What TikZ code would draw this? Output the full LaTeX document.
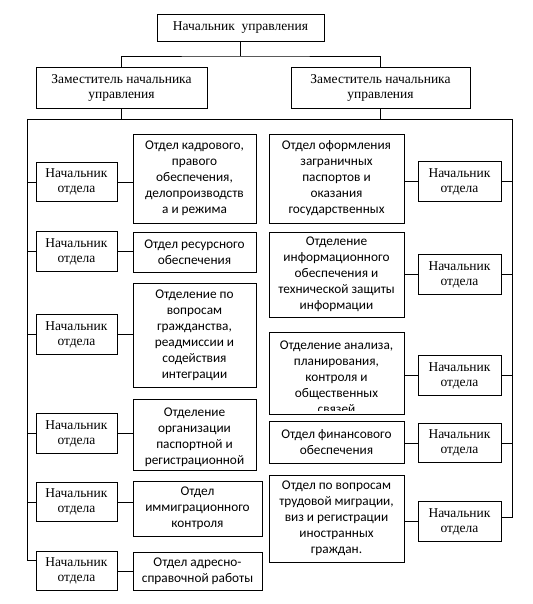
\documentclass[tikz,border=0pt]{standalone}
\usepackage{fontspec}
\setmainfont{Liberation Serif}
\newfontfamily\carl{Carlito}
\begin{document}
\begin{tikzpicture}[x=1pt,y=-1pt,
  box/.style={draw, line width=0.8pt, inner sep=0pt, align=center},
  serifbox/.style={box, font=\fontsize{13.5}{15}\selectfont},
  dept/.style={box, font=\carl\fontsize{13.3}{16}\selectfont},
  txt/.style={inner sep=0pt, align=center, font=\carl\fontsize{13.3}{16}\selectfont},
  link/.style={line width=0.8pt}]
\useasboundingbox (0,0) rectangle (532,604);

% top level
\node[serifbox, minimum width=167pt, minimum height=27pt] (top) at (240.5,27.5) {Начальник\ \ управления};
\node[serifbox, minimum width=171pt, minimum height=41pt] (depL) at (121.5,87.5) {Заместитель начальника\\управления};
\node[serifbox, minimum width=179pt, minimum height=41pt] (depR) at (380.5,87.5) {Заместитель начальника\\управления};

% left chiefs
\foreach \n/\y in {N1/182,N2/251.5,N3/334.5,N4/433.5,N5/502,N6/571}
  \node[serifbox, minimum width=81pt, minimum height=39.5pt] (\n) at (76.5,\y) {Начальник\\отдела};
% right chiefs
\foreach \n/\y in {RN1/181.5,RN2/274.5,RN3/375.5,RN4/443,RN5/521.5}
  \node[serifbox, minimum width=83pt, minimum height=39.5pt] (\n) at (459.5,\y) {Начальник\\отдела};

% left departments
\node[dept, minimum width=123pt, minimum height=89pt] (D1) at (194.5,178.5) {Отдел кадрового,\\правого\\обеспечения,\\делопроизводств\\а и режима};
\node[dept, minimum width=123pt, minimum height=40pt] (D2) at (194.5,252) {Отдел ресурсного\\обеспечения};
\node[dept, minimum width=123pt, minimum height=104pt] (D3) at (194.5,335) {Отделение по\\вопросам\\гражданства,\\реадмиссии и\\содействия\\интеграции};
\node[box, minimum width=123pt, minimum height=71pt] (D4) at (194.5,434.5) {};
\begin{scope}
  \clip ([yshift=-1pt]D4.north west) rectangle ([yshift=2pt]D4.south east);
  \node[txt] at (194.5,437.5) {Отделение\\организации\\паспортной и\\регистрационной};
\end{scope}
\node[dept, minimum width=129pt, minimum height=55pt] (D5) at (197.5,508.5) {Отдел\\иммиграционного\\контроля};
\node[dept, minimum width=129pt, minimum height=38pt] (D6) at (197.5,571) {Отдел адресно-\\справочной работы};

% right departments
\node[dept, minimum width=135pt, minimum height=89pt] (R1) at (336.5,178.5) {Отдел оформления\\заграничных\\паспортов и\\оказания\\государственных};
\node[dept, minimum width=135pt, minimum height=85pt] (R2) at (336.5,274.5) {Отделение\\информационного\\обеспечения и\\технической защиты\\информации};
\node[box, minimum width=135pt, minimum height=82pt] (R3) at (336.5,373) {};
\begin{scope}
  \clip ([yshift=-1pt]R3.north west) rectangle ([yshift=4pt]R3.south east);
  \node[txt] at (336.5,377) {Отделение анализа,\\планирования,\\контроля и\\общественных\\связей};
\end{scope}
\node[dept, minimum width=135pt, minimum height=42pt] (R4) at (336.5,442) {Отдел финансового\\обеспечения};
\node[dept, minimum width=135pt, minimum height=87pt] (R5) at (336.5,518.5) {Отдел по вопросам\\трудовой миграции,\\виз и регистрации\\иностранных\\граждан.};

% connectors top
\coordinate (hub) at (240.5,56);
\coordinate (TL) at (27,119);
\coordinate (TR) at (512,119);
\coordinate (LB) at (27,560);
\coordinate (RB) at (512,517);
\draw[link] (top.south) -- (hub);
\draw[link] (depL.north) |- (hub) -| (depR.north);
\draw[link] (depL.south) -- (depL.south |- TL);
\draw[link] (depR.south) -- (depR.south |- TR);
\draw[link] (TL) -- (TR);
\draw[link] (TL) -- (LB) -- (LB -| N6.west);
\draw[link] (TR) -- (RB) -- (RB -| RN5.east);

% left branches
\foreach \n in {N1,N2,N3,N4,N5}
  \draw[link] (\n.west) -- (\n.west -| TL);
\foreach \n/\d in {N1/D1,N2/D2,N3/D3,N4/D4,N5/D5,N6/D6}
  \draw[link] (\n.east) -- (\n.east -| \d.west);
% right branches
\foreach \n in {RN1,RN2,RN3,RN4}
  \draw[link] (\n.east) -- (\n.east -| TR);
\foreach \n/\d in {RN1/R1,RN2/R2,RN3/R3,RN4/R4,RN5/R5}
  \draw[link] (\n.west) -- (\n.west -| \d.east);
\end{tikzpicture}
\end{document}
